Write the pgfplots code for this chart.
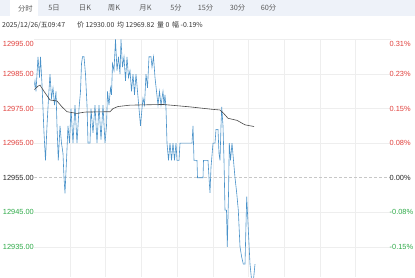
\documentclass[border=0pt]{standalone}
\usepackage{pgfplots}
\pgfplotsset{compat=1.18}
\usepackage{fontspec}
\setmainfont{Liberation Sans}
\newfontfamily\cjk{Noto Sans CJK SC}
\definecolor{upred}{HTML}{E0403C}
\definecolor{dngreen}{HTML}{2EAA48}
\definecolor{pline}{HTML}{4A92C9}
\definecolor{avgline}{HTML}{484848}
\definecolor{gridc}{HTML}{EEEEEE}
\definecolor{tabbg}{HTML}{EEF2F9}
\definecolor{tabtxt}{HTML}{5A5A5A}
\begin{document}
\begin{tikzpicture}[x=1pt,y=1pt]
\useasboundingbox (0,0) rectangle (415,277);
% tab bar
\fill[tabbg] (0,261) rectangle (415,277);
\fill[white] (10,261) rectangle (38,277);
\begin{scope}[every node/.style={font=\cjk\fontsize{7.3}{8}\selectfont, text=tabtxt, inner sep=0pt}]
\node at (25.5,268.7) {分时};
\node at (54,268.7) {5日};
\node at (85,268.7) {日K};
\node at (114,268.7) {周K};
\node at (145.5,268.7) {月K};
\node at (176,268.7) {5分};
\node at (205.5,268.7) {15分};
\node at (237.5,268.7) {30分};
\node at (268.5,268.7) {60分};
\end{scope}
% info line
\begin{scope}[every node/.style={font=\cjk\fontsize{6.9}{8}\selectfont, text=black!80, inner sep=0pt, anchor=west}]
\node at (2,252) {2025/12/26/五09:47};
\node at (77,252) {价 12930.00};
\node at (117,252) {均 12969.82};
\node at (157,252) {量 0};
\node at (172,252) {幅 -0.19\%};
\end{scope}
\begin{axis}[at={(34.3,0)}, anchor=south west, scale only axis,
  width=357pt, height=237.5pt,
  xmin=34.3, xmax=391.3, ymin=12926.26, ymax=12995,
  scaled y ticks=false, scaled x ticks=false,
  axis line style={draw=none}, major tick length=0pt,
  xticklabel=\empty, yticklabel=\empty,
  ytick={12935,12945,12965,12975,12985,12995},
  xtick={70,105.7,141.4,177.1,212.8,248.5,284.2,319.9,355.6},
  grid=major, major grid style={gridc, line width=0.6pt},
  clip mode=individual]
\addplot[draw=black!22, dash pattern=on 3pt off 2pt, line width=0.6pt] coordinates {(34.3,12955) (391.3,12955)};
\addplot[pline, line width=0.6pt] coordinates {
(34,12981) (35,12983) (36,12980) (37,12985) (38,12990) (39.5,12984) (40.5,12990) (42,12982) (43,12975)
(44,12968) (45.5,12960) (47,12970) (48.5,12978) (50,12985) (51.5,12978) (53,12981) (54.5,12976) (56,12980) (57,12970)
(58.3,12960) (60,12970) (61.5,12965) (63,12962) (64,12955) (65,12950.5) (66.5,12960) (68,12970) (69.5,12965) (71,12975)
(73,12965) (75,12976) (77,12965) (79,12975) (80.5,12980) (81.5,12988) (82.5,12990) (84,12990) (85.5,12985) (87,12976)
(88,12965) (90,12965) (91,12975) (93,12968) (95,12976) (97,12965) (99,12976) (101,12966) (103,12976) (105,12965)
(106.5,12970) (107.5,12980) (109,12976) (110.5,12981) (111.5,12979) (112.5,12988) (114,12986) (115.5,12995) (117,12986) (118.5,12990)
(120,12985) (121,12995) (122.5,12987) (124,12990) (125.5,12983) (127,12990) (128.5,12984) (130,12986) (131.5,12980) (133,12985)
(134.5,12979) (136,12985) (137.5,12980) (139,12975) (140.5,12970) (142,12975) (143,12978) (144.5,12976) (146,12985) (147.5,12981)
(149,12990) (151,12990) (152,12987) (153.5,12990) (155,12984) (156.5,12980) (158,12976) (159.5,12980) (161,12976) (163,12980)
(164,12976) (165,12979) (166,12975) (167,12965) (168.5,12960) (170,12965) (171.5,12960) (173,12965) (174.5,12960) (176,12965)
(177,12960) (179,12960) (180,12965) (192,12965) (193,12970) (194,12960) (197,12960)
(197.5,12955) (203,12955) (203.5,12960) (208,12960) (209,12955) (210,12950.6) (211,12958) (213,12965) (215,12965) (216,12969)
(218,12969) (219,12962) (220,12960) (221,12970) (221.7,12975.5) (223,12970) (224,12960) (225,12945.6) (226.5,12945.6) (227.3,12935)
(228.5,12950) (229.3,12965) (230.5,12960) (232,12965) (233.5,12960) (235,12955) (236.7,12950.6) (238.3,12945.6)
(240,12935) (241.7,12932) (243.3,12930) (245,12930) (246.7,12949.5) (248.3,12940) (250,12930) (251.7,12925) (253.3,12925) (255,12930)
};
\addplot[avgline, line width=0.6pt] coordinates {
(34,12980.4) (38,12981.5) (40,12981.8) (44,12980) (50,12977.5) (57,12977.2) (62,12975.5) (67,12974.1) (77,12973.6) (85,12974.0)
(110,12974.1) (113,12975) (118,12975.6) (130,12976) (163,12976.2) (190,12975.5) (212,12974.8) (220,12974.6) (224,12973.5) (228,12972.2)
(237,12971.6) (245,12970.3) (254,12969.82)
};
\end{axis}
% axis labels
\begin{scope}[every node/.style={font=\fontsize{7.4}{8}\selectfont, inner sep=0pt}]
\node[anchor=east, text=upred] at (34,233) {12995.00};
\node[anchor=east, text=upred] at (34,202.95) {12985.00};
\node[anchor=east, text=upred] at (34,168.4) {12975.00};
\node[anchor=east, text=upred] at (34,133.8) {12965.00};
\node[anchor=east, text=black!85] at (34,99.3) {12955.00};
\node[anchor=east, text=dngreen] at (34,64.7) {12945.00};
\node[anchor=east, text=dngreen] at (34,30.2) {12935.00};
\node[anchor=west, text=upred] at (389.5,233) {0.31\%};
\node[anchor=west, text=upred] at (389.5,202.95) {0.23\%};
\node[anchor=west, text=upred] at (389.5,168.4) {0.15\%};
\node[anchor=west, text=upred] at (389.5,133.8) {0.08\%};
\node[anchor=west, text=black!85] at (389.5,99.3) {0.00\%};
\node[anchor=west, text=dngreen] at (389.5,64.7) {-0.08\%};
\node[anchor=west, text=dngreen] at (389.5,30.2) {-0.15\%};
\end{scope}
\end{tikzpicture}
\end{document}
